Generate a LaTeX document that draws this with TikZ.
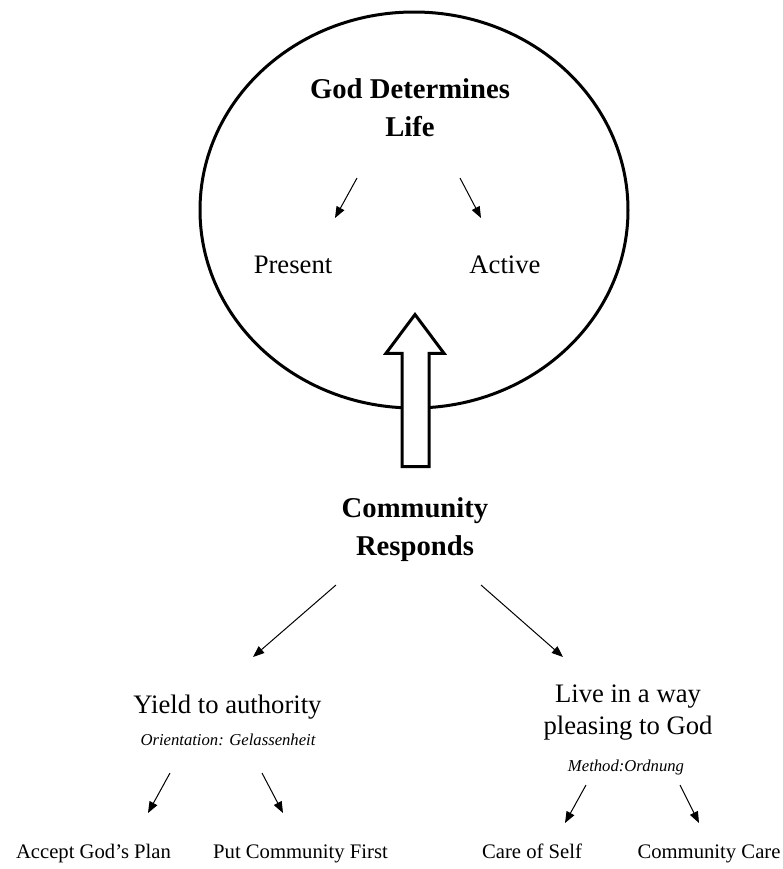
\documentclass[tikz,border=0pt]{standalone}
\usepackage{fontspec}
\setmainfont{Liberation Serif}
\usetikzlibrary{arrows.meta}
\begin{document}
\begin{tikzpicture}[x=0.75pt, y=-0.75pt,
    every node/.style={inner sep=0pt, anchor=base},
    big/.style={font=\fontsize{21.5}{28.5}\selectfont\bfseries, align=center, anchor=center},
    mid/.style={font=\fontsize{20}{24}\selectfont, align=center},
    small/.style={font=\fontsize{15.5}{18}\selectfont},
    note/.style={font=\fontsize{12.5}{15}\selectfont\itshape},
    arr/.style={line width=0.75pt, -{Triangle[length=8.5pt, width=6.5pt]}},
    heavy/.style={line width=2.25pt, line join=miter}]
    \useasboundingbox (0,0) rectangle (783,869);

    \draw[heavy] (414,210) ellipse [x radius=214, y radius=198];

    \node[big] (a1) at (410,108) {God Determines\\Life};

    \node[mid] (b1) at (293,273) {Present};
    \draw[arr] ([shift={(-53,70)}]a1.center) -- ([shift={(42,-55)}]b1.base);

    \node[mid] (b2) at (505,273) {Active};
    \draw[arr] ([shift={(50,70)}]a1.center) -- ([shift={(-24,-55)}]b2.base);

    \node[big] (c1) at (415,530) {Community\\Responds};
    \draw[heavy, fill=white] (402,466.5) -- (402,353.3) -- (386,353.3) -- (415,314.5)
      -- (444,353.3) -- (429,353.3) -- (429,466.5) -- cycle;

    \node[mid] (d1) at (227.5,713) {Yield to authority};
    \draw[arr] ([shift={(-79,55)}]c1.center) -- ([shift={(25.5,-56)}]d1.base);

    \node[mid, anchor=center] (d2) at (628,713) {Live in a way\\pleasing to God};
    \draw[arr] ([shift={(66,55)}]c1.center) -- ([shift={(-65,-56)}]d2.center);

    \node[note] (e1) at (228,745) {Orientation: Gelassenheit};
    \node[note] (e2) at (626,771) {Method:Ordnung};

    \node[small] (f1) at (93.5,858) {Accept God’s Plan};
    \draw[arr] ([shift={(-58,28)}]e1.base) -- ([shift={(54.5,-45)}]f1.base);

    \node[small] (f2) at (300.5,858) {Put Community First};
    \draw[arr] ([shift={(34,28)}]e1.base) -- ([shift={(-17.5,-45)}]f2.base);

    \node[small] (f3) at (532,858) {Care of Self};
    \draw[arr] ([shift={(-40,14)}]e2.base) -- ([shift={(33,-35)}]f3.base);

    \node[small] (f4) at (709,858) {Community Care};
    \draw[arr] ([shift={(54,14)}]e2.base) -- ([shift={(-10,-35)}]f4.base);
\end{tikzpicture}
\end{document}
